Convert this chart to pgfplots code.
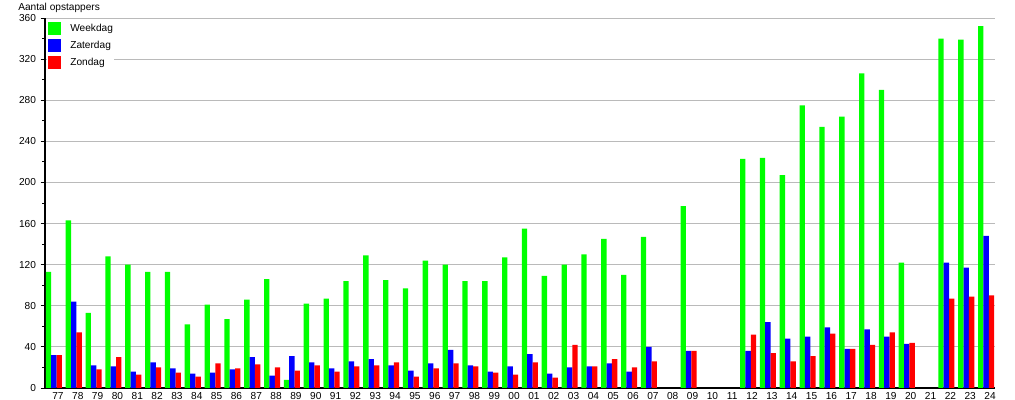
\documentclass[border=0pt]{standalone}
\usepackage{fontspec}
\setmainfont{Liberation Sans}
\usepackage{pgfplots}
\pgfplotsset{compat=1.18}
\definecolor{wk}{RGB}{0,255,0}
\definecolor{za}{RGB}{0,0,255}
\definecolor{zo}{RGB}{255,0,0}
\begin{document}
\begin{tikzpicture}
\begin{axis}[
  at={(0,0)}, anchor=south west,
  scale only axis, width=712.5pt, height=277.5pt,
  font=\fontsize{7.6}{9}\selectfont,
  /pgf/number format/assume math mode=true,
  ybar=0pt, bar width=0.27,
  xmin=-0.45, xmax=47.45, ymin=0, ymax=360,
  axis x line*=bottom, axis y line*=left,
  axis line style={-, line width=0.9pt, black},
  ytick={0,40,...,360}, minor y tick num=1,
  tick align=outside, major tick length=3.2pt, minor tick length=2pt,
  tick style={black, line width=0.7pt},
  ymajorgrids, grid style={line width=0.6pt, color=black!27},
  xtick={0,...,47},
  xticklabels={77,78,79,80,81,82,83,84,85,86,87,88,89,90,91,92,93,94,95,96,97,98,99,{00},{01},{02},{03},{04},{05},{06},{07},{08},{09},10,11,12,13,14,15,16,17,18,19,20,21,22,23,24},
  major x tick style={draw=none},
  xticklabel style={xshift=3pt, anchor=north, inner sep=0pt, yshift=0pt},
  legend cell align=left,
  legend image code/.code={\fill[#1,draw=none] (0pt,-4.875pt) rectangle (9.75pt,4.875pt);},
  legend style={at={(0,1)}, anchor=north west, xshift=1.3pt, yshift=-1.8pt,
    draw=none, fill=white, inner sep=1pt, row sep=3pt, column sep=6.75pt,
    nodes={inner sep=0pt}, font=\fontsize{7.6}{9}\selectfont},
]
\addplot[fill=wk, draw=none] coordinates {
(0,113) (1,163) (2,73) (3,128) (4,120) (5,113) (6,113) (7,62) (8,81) (9,67)
(10,86) (11,106) (12,8) (13,82) (14,87) (15,104) (16,129) (17,105) (18,97) (19,124)
(20,120) (21,104) (22,104) (23,127) (24,155) (25,109) (26,120) (27,130) (28,145) (29,110)
(30,147) (32,177) (35,223) (36,224) (37,207) (38,275) (39,254)
(40,264) (41,306) (42,290) (43,122) (45,340) (46,339) (47,352)};
\addplot[fill=za, draw=none] coordinates {
(0,32) (1,84) (2,22) (3,21) (4,16) (5,25) (6,19) (7,14) (8,15) (9,18)
(10,30) (11,12) (12,31) (13,25) (14,19) (15,26) (16,28) (17,22) (18,17) (19,24)
(20,37) (21,22) (22,16) (23,21) (24,33) (25,14) (26,20) (27,21) (28,24) (29,16)
(30,40) (32,36) (35,36) (36,64) (37,48) (38,50) (39,59)
(40,38) (41,57) (42,50) (43,43) (45,122) (46,117) (47,148)};
\addplot[fill=zo, draw=none] coordinates {
(0,32) (1,54) (2,18) (3,30) (4,13) (5,20) (6,15) (7,11) (8,24) (9,19)
(10,23) (11,20) (12,17) (13,22) (14,16) (15,21) (16,22) (17,25) (18,11) (19,19)
(20,24) (21,21) (22,15) (23,13) (24,25) (25,10) (26,42) (27,21) (28,28) (29,20)
(30,26) (32,36) (35,52) (36,34) (37,26) (38,31) (39,53)
(40,38) (41,42) (42,54) (43,44) (45,87) (46,89) (47,90)};
\legend{Weekdag,Zaterdag,Zondag}
\end{axis}
\node[anchor=base west, inner sep=0pt, font=\fontsize{7.6}{9}\selectfont] at (-20.25pt,282.75pt) {Aantal opstappers};
\pgfresetboundingbox
\path[use as bounding box] (-33.75pt,-9pt) rectangle (727.5pt,291pt);
\end{tikzpicture}
\end{document}
